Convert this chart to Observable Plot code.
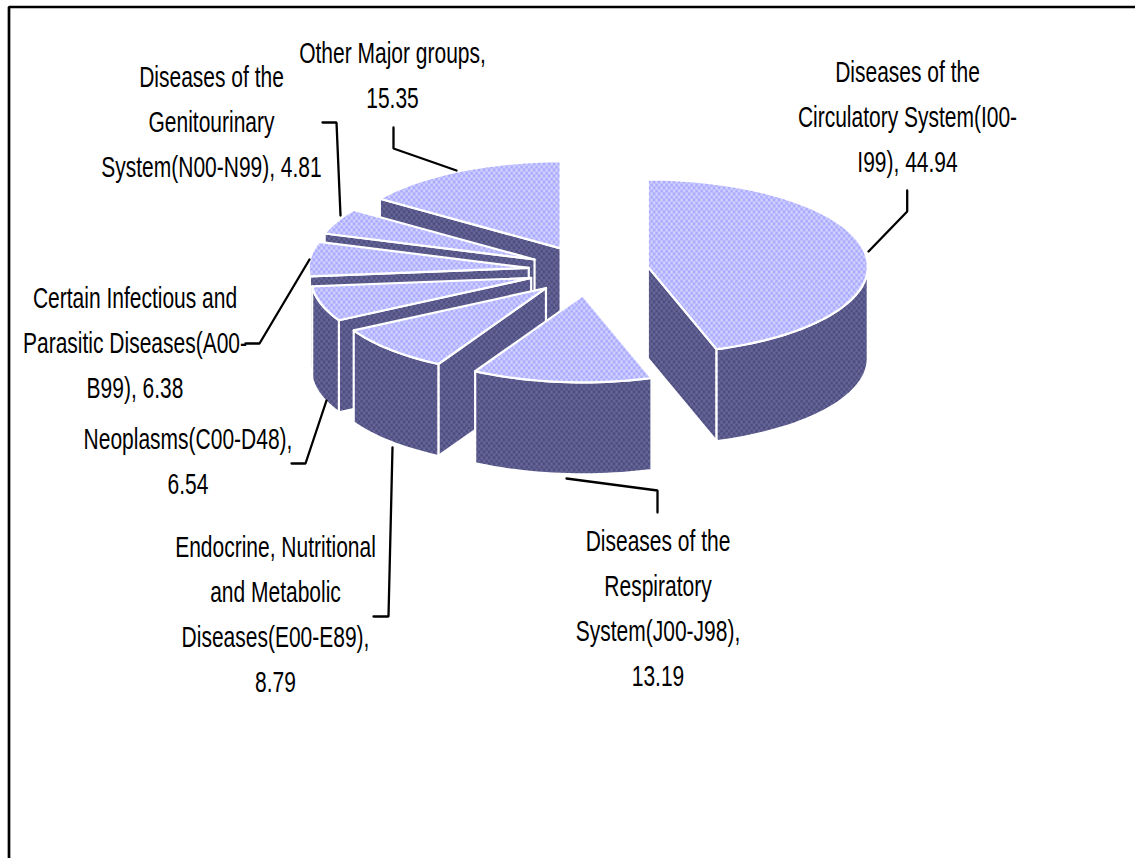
<!DOCTYPE html>
<html>
<head>
<meta charset="utf-8">
<script src="https://cdn.jsdelivr.net/npm/d3@7"></script>
<script src="https://cdn.jsdelivr.net/npm/@observablehq/plot@0.6"></script>
<style>html,body{margin:0;background:#fff}svg{display:block}</style>
</head>
<body>
<div id="chart"></div>
<script>
// Data
const categories = ["Circulatory", "Respiratory", "Endocrine", "Neoplasms", "Infectious", "Genitourinary", "Other"];
const values = [44.94, 13.19, 8.79, 6.54, 6.38, 4.81, 15.35];
const labelNames = [
  "Diseases of the\nCirculatory System(I00-\nI99), ",
  "Diseases of the\nRespiratory\nSystem(J00-J98),\n",
  "Endocrine, Nutritional\nand Metabolic\nDiseases(E00-E89),\n",
  "Neoplasms(C00-D48),\n",
  "Certain Infectious and\nParasitic Diseases(A00-\nB99), ",
  "Diseases of the\nGenitourinary\nSystem(N00-N99), ",
  "Other Major groups,\n"
];

// Layout (pixels of the photographed page)
const W = 1135, H = 858;
const CX = 588, CY = 270, RX = 220, RY = 87, DEPTH = 92 / 87, EXPLODE_X = 0.273, EXPLODE_Y = 0.287;
const toX = (p) => (p - CX) / RX;
const toY = (p) => (CY - p) / RY;
const labelAnchors = [[907, 82], [657.5, 551], [275, 557], [187.5, 449], [134.5, 308], [211, 87], [392, 63]];
const leaderPaths = [
  [[906.7, 190], [906.7, 211], [868, 251]],
  [[566, 478], [657, 490], [657, 512]],
  [[373, 616], [388, 616], [392, 447]],
  [[291, 463], [305, 463], [326, 400]],
  [[245, 343], [259, 343], [309, 259]],
  [[322, 122], [336, 122], [340, 215]],
  [[393, 127], [393, 148], [456, 170]]
];
const paintOrder = [6, 5, 4, 3, 2, 1, 0];
const fontSize = 30, lineGap = 44.8, squeeze = 0.7;

// Slice angles (degrees clockwise from 12 o'clock), from the values
const total = d3.sum(values);
const ends = d3.cumsum(values).map((v) => (v / total) * 360);
const slices = values.map((v, i) => {
  const a0 = i ? ends[i - 1] : 0, a1 = ends[i];
  const mid = ((a0 + a1) / 2) * Math.PI / 180;
  return {a0, a1, ax: EXPLODE_X * Math.sin(mid), ay: EXPLODE_Y * Math.cos(mid)};
});
const rim = (s, a, dz = 0) => {
  const r = a * Math.PI / 180;
  return {x: s.ax + Math.sin(r), y: s.ay + Math.cos(r) - dz};
};
const arcPts = (s, a0, a1, dz = 0) => {
  const pts = [];
  for (let a = a0; a < a1; a += 2) pts.push(rim(s, a, dz));
  pts.push(rim(s, a1, dz));
  return pts;
};
const close = (pts) => [...pts, pts[0]];
const faceStyle = (fill) => ({x: "x", y: "y", fill, stroke: "white", strokeWidth: 2.2, strokeLinejoin: "round", curve: "linear"});

const marks = [];
for (const i of paintOrder) {
  const s = slices[i];
  const apex = {x: s.ax, y: s.ay}, apexLow = {x: s.ax, y: s.ay - DEPTH};
  // visible radial walls
  if (Math.sin(s.a0 * Math.PI / 180) < -1e-6)
    marks.push(Plot.line(close([apex, rim(s, s.a0), rim(s, s.a0, DEPTH), apexLow]), faceStyle("url(#sidePat)")));
  if (Math.sin(s.a1 * Math.PI / 180) > 1e-6)
    marks.push(Plot.line(close([apex, rim(s, s.a1), rim(s, s.a1, DEPTH), apexLow]), faceStyle("url(#sidePat)")));
  // visible outer wall
  const r0 = Math.max(s.a0, 90), r1 = Math.min(s.a1, 270);
  if (r0 < r1)
    marks.push(Plot.line(close([...arcPts(s, r0, r1), ...arcPts(s, r0, r1, DEPTH).reverse()]), faceStyle("url(#sidePat)")));
  // top
  marks.push(Plot.line(close([apex, ...arcPts(s, s.a0, s.a1)]), faceStyle("url(#topPat)")));
}
// leaders
leaderPaths.forEach((path) => {
  marks.push(Plot.line(path.map(([x, y]) => ({x: toX(x), y: toY(y)})), {x: "x", y: "y", stroke: "black", strokeWidth: 2.3, strokeLinejoin: "miter"}));
});
// page frame: top and left only
marks.push(Plot.line([[W, 6.5], [8.5, 6.5], [8.5, H]].map(([x, y]) => ({x: toX(x), y: toY(y)})), {x: "x", y: "y", stroke: "black", strokeWidth: 2.7, strokeLinejoin: "miter"}));
// labels
const labels = values.map((v, i) => ({
  text: labelNames[i] + v.toFixed(2),
  x: toX(labelAnchors[i][0]),
  y: toY(labelAnchors[i][1] - 0.71 * lineGap)
}));
marks.push(Plot.text(labels, {x: "x", y: "y", text: "text", textAnchor: "middle", lineAnchor: "top", lineHeight: lineGap / fontSize, fontSize, fill: "black", fontFamily: "'Liberation Sans', Arial, sans-serif"}));

const svg = Plot.plot({
  width: W, height: H, margin: 0,
  x: {domain: [toX(0), toX(W)], range: [0, W], axis: null},
  y: {domain: [toY(0), toY(H)], range: [0, H], axis: null},
  style: {background: "white", overflow: "hidden"},
  marks
});

// horizontally condensed type, as in the original
d3.select(svg).selectAll("text").each(function () {
  const t = d3.select(this);
  t.attr("transform", (t.attr("transform") || "") + ` scale(${squeeze},1)`);
});

// woven fill textures
const defs = d3.select(svg).insert("defs", ":first-child");
const weave = (id, bg, light, dark) => {
  const p = defs.append("pattern").attr("id", id).attr("patternUnits", "userSpaceOnUse").attr("width", 5).attr("height", 6);
  p.append("rect").attr("width", 5).attr("height", 6).attr("fill", bg);
  p.append("rect").attr("x", 0.5).attr("y", 0).attr("width", 1.3).attr("height", 3.5).attr("fill", light);
  p.append("rect").attr("x", 3).attr("y", 3).attr("width", 1.3).attr("height", 3.5).attr("fill", light);
  p.append("rect").attr("x", 3).attr("y", 0).attr("width", 1).attr("height", 2.5).attr("fill", dark);
  p.append("rect").attr("x", 0.5).attr("y", 3.5).attr("width", 1).attr("height", 2.5).attr("fill", dark);
};
weave("topPat", "#b6b6ff", "#e2e2ff", "#9a9aff");
weave("sidePat", "#56568a", "#7070a2", "#42426e");

document.getElementById("chart").append(svg);
</script>
</body>
</html>
